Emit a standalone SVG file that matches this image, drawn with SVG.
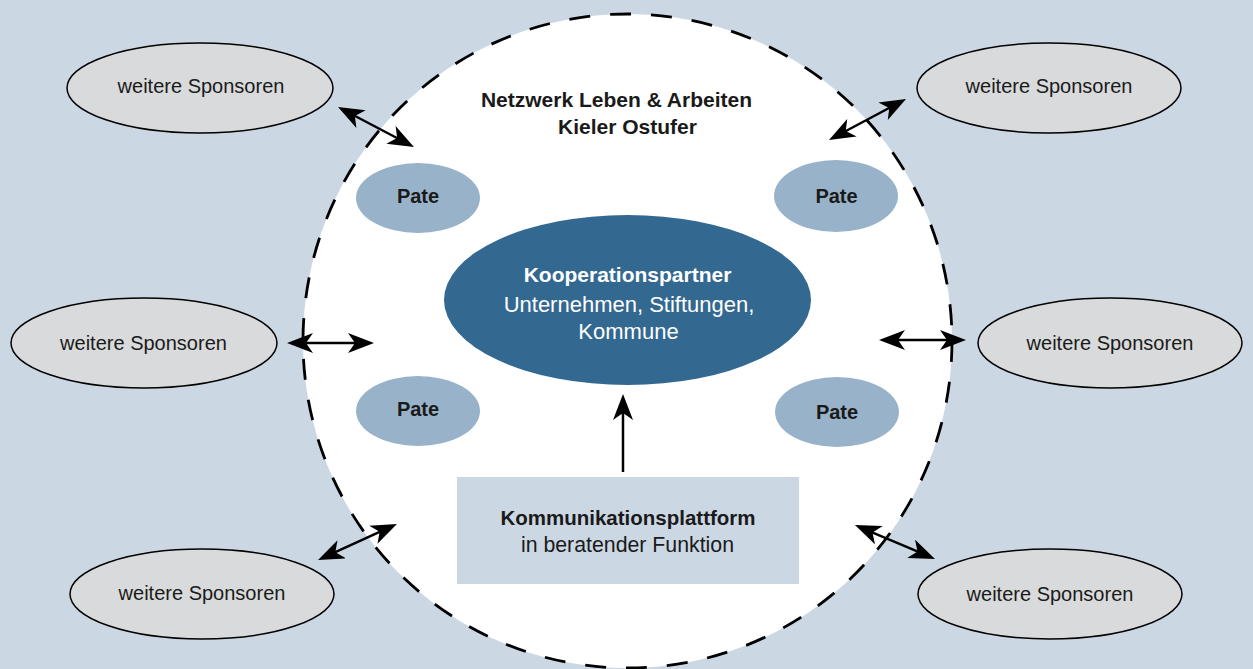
<svg xmlns="http://www.w3.org/2000/svg" width="1253" height="669" viewBox="0 0 1253 669">
<style>
.sp{fill:#d9dadb;stroke:#000;stroke-width:1.5}
.pate{fill:#98b3c9}
.t{font-family:"Liberation Sans",Arial,sans-serif;text-anchor:middle;fill:#1a1a1a}
.b{font-weight:bold}
.w{fill:#fff}
.c{stroke:#000;stroke-width:2.5;fill:none}
.dbl{marker-start:url(#ah);marker-end:url(#ah)}
</style>
<defs>
<marker id="ah" markerUnits="userSpaceOnUse" markerWidth="26" markerHeight="20" viewBox="0 0 26 20" refX="10" refY="10" orient="auto-start-reverse">
<path d="M0,0 L26,10 L0,20 L7,10 Z" fill="#000"/>
</marker>
</defs>
<rect width="1253" height="669" fill="#cbd8e4"/>
<g id="netzwerk">
<ellipse cx="627.5" cy="341" rx="324.5" ry="327" fill="#fff" stroke="#000" stroke-width="2.8" stroke-dasharray="21 20"/>
<text class="t b" x="616.5" y="107" font-size="21">Netzwerk Leben &amp; Arbeiten</text>
<text class="t b" x="627.5" y="134" font-size="21">Kieler Ostufer</text>
</g>
<g id="sponsor-tl"><ellipse class="sp" cx="200" cy="88" rx="133" ry="45"/><text class="t" x="201" y="93" font-size="20">weitere Sponsoren</text></g>
<g id="sponsor-ml"><ellipse class="sp" cx="144" cy="343" rx="133" ry="45"/><text class="t" x="143.5" y="350" font-size="20">weitere Sponsoren</text></g>
<g id="sponsor-bl"><ellipse class="sp" cx="202" cy="594" rx="132" ry="45"/><text class="t" x="202" y="600" font-size="20">weitere Sponsoren</text></g>
<g id="sponsor-tr"><ellipse class="sp" cx="1049" cy="88" rx="132" ry="45"/><text class="t" x="1049" y="93" font-size="20">weitere Sponsoren</text></g>
<g id="sponsor-mr"><ellipse class="sp" cx="1110" cy="343" rx="132" ry="45"/><text class="t" x="1110" y="350" font-size="20">weitere Sponsoren</text></g>
<g id="sponsor-br"><ellipse class="sp" cx="1050" cy="594" rx="132" ry="45"/><text class="t" x="1050" y="601" font-size="20">weitere Sponsoren</text></g>
<g id="pate-tl"><ellipse class="pate" cx="418" cy="198" rx="62" ry="35"/><text class="t b" x="418" y="203" font-size="20">Pate</text></g>
<g id="pate-tr"><ellipse class="pate" cx="836" cy="196" rx="62" ry="36"/><text class="t b" x="836.5" y="203" font-size="20">Pate</text></g>
<g id="pate-bl"><ellipse class="pate" cx="418" cy="411" rx="62" ry="35"/><text class="t b" x="418" y="416" font-size="20">Pate</text></g>
<g id="pate-br"><ellipse class="pate" cx="837" cy="412" rx="62" ry="35"/><text class="t b" x="837" y="419" font-size="20">Pate</text></g>
<g id="kooperation">
<ellipse cx="627.5" cy="300" rx="183.5" ry="85" fill="#336890"/>
<text class="t b w" x="627.5" y="282" font-size="21">Kooperationspartner</text>
<text class="t w" x="629" y="312" font-size="22">Unternehmen, Stiftungen,</text>
<text class="t w" x="628.5" y="339" font-size="22">Kommune</text>
</g>
<g id="plattform">
<rect x="457" y="477" width="342" height="107" fill="#cbd8e4"/>
<text class="t b" x="628" y="525" font-size="20.5">Kommunikationsplattform</text>
<text class="t" x="627.5" y="552" font-size="21.3">in beratender Funktion</text>
</g>
<g id="connectors">
<line class="c dbl" x1="352.2" y1="114.5" x2="399.8" y2="139.5"/>
<line class="c dbl" x1="843.1" y1="132.5" x2="891.9" y2="106.5"/>
<line class="c dbl" x1="303" y1="343" x2="358" y2="343"/>
<line class="c dbl" x1="895" y1="340" x2="950" y2="340"/>
<line class="c dbl" x1="332.6" y1="553.4" x2="382.4" y2="530.6"/>
<line class="c dbl" x1="869.7" y1="531.3" x2="920.3" y2="552.7"/>
<line class="c" x1="623" y1="472" x2="623" y2="410" marker-end="url(#ah)"/>
</g>
</svg>
